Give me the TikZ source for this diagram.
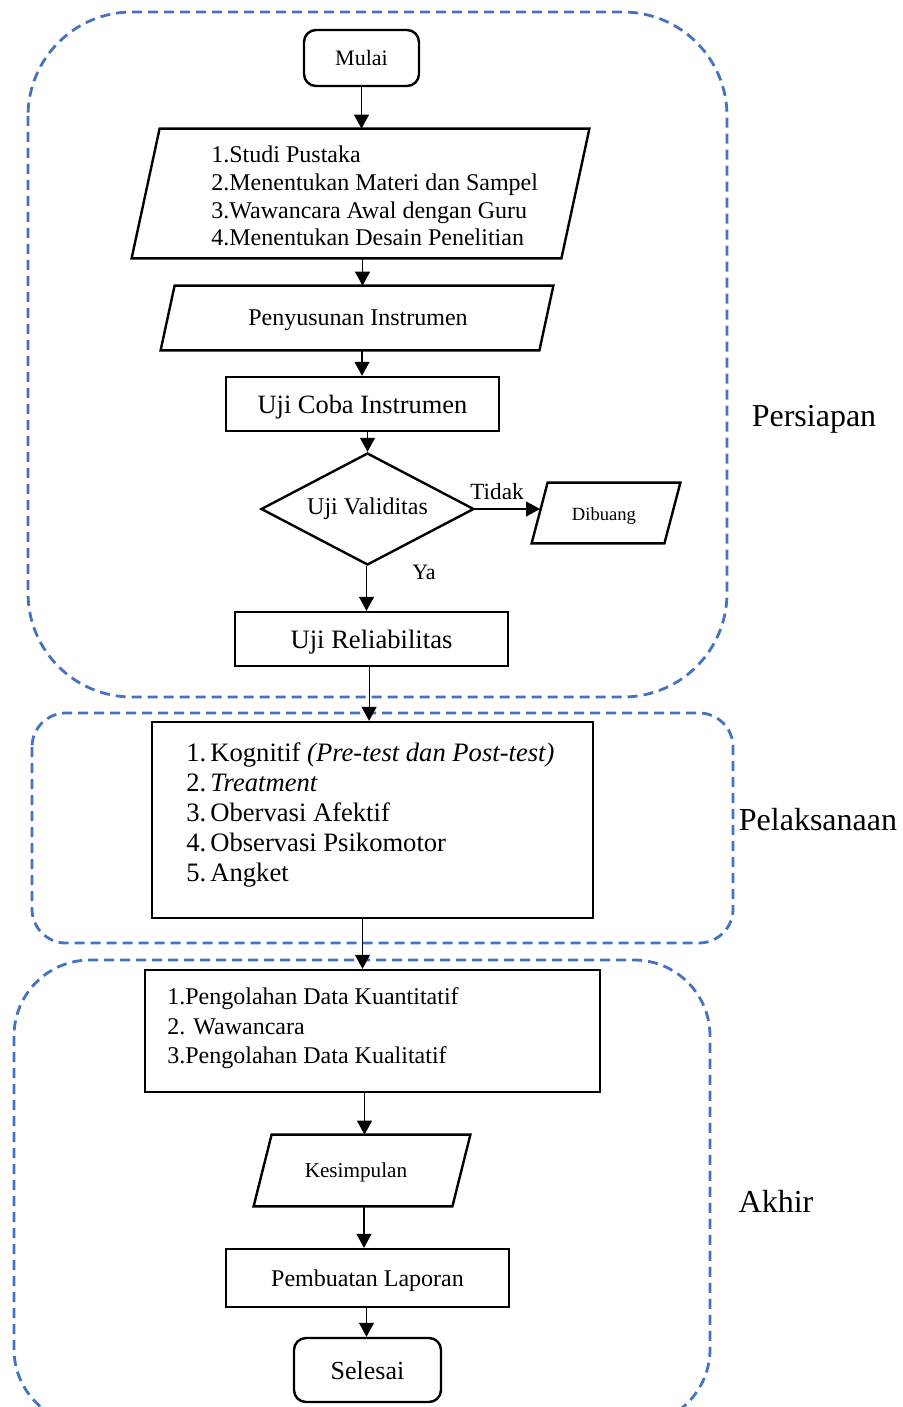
\documentclass[tikz,border=0pt]{standalone}
\usepackage{fontspec}
\setmainfont{Liberation Serif}
\usetikzlibrary{arrows.meta,shapes.geometric,calc}
\definecolor{regblue}{HTML}{4472C4}
\newcommand\fs[2]{\fontsize{#1}{#2}\selectfont}
\newcommand\paraframe[2]{\draw[boxline] (#1.south west) -- ([xshift=#2]#1.north west) -- (#1.north east) -- ([xshift=-#2]#1.south east) -- cycle;}
\newcommand\num[1]{\makebox[12pt][l]{#1}}
\begin{document}
\begin{tikzpicture}[x=0.5pt,y=-0.5pt,
  boxline/.style={line width=1.2pt,black},
  region/.style={draw=regblue,line width=1.4pt,dash pattern=on 5pt off 3pt},
  procbox/.style={draw,line width=1.2pt,inner sep=0pt,text depth=0pt},
  termbox/.style={draw,line width=1.2pt,rounded corners=6pt,inner sep=0pt,text depth=0pt},
  paranode/.style={inner sep=0pt},
  txt/.style={inner sep=0pt},
  arr/.style={line width=0.6pt,-{Triangle[length=7pt,width=7.5pt]}},
  reglabel/.style={inner sep=0pt,font=\fs{16pt}{19pt}}]
\clip (0,0) rectangle (902,1407);
\fill[white] (0,0) rectangle (902,1407);
% regions
\draw[region,rounded corners=52pt] (28,12) rectangle (727,697);
\draw[region,rounded corners=17pt] (32,713) rectangle (733,943);
\draw[region,rounded corners=38pt] (14,960) rectangle (710,1425);
\node[reglabel] (lpers) at (814,419) {Persiapan};
\node[reglabel] (lpel) at (818,820) {Pelaksanaan};
\node[reglabel] (lakh) at (776,1201) {Akhir};
% nodes
\node[termbox,minimum width=57.5pt,minimum height=28pt,font=\fs{11pt}{13pt}] (start) at (361.5,58) {Mulai};
\node[paranode,minimum width=228.5pt,minimum height=64.5pt] (p1) at (360.5,193.5) {};
\paraframe{p1}{14pt}
\node[txt,anchor=west,align=left,font=\fs{12pt}{13.85pt}] (p1t) at (211,196) {1.Studi Pustaka\\2.Menentukan Materi dan Sampel\\3.Wawancara Awal dengan Guru\\4.Menentukan Desain Penelitian};
\node[paranode,minimum width=196pt,minimum height=32pt] (p2) at (357,318) {};
\paraframe{p2}{7pt}
\node[txt,font=\fs{12pt}{14pt},text depth=0pt] (p2t) at (358,318) {Penyusunan Instrumen};
\node[procbox,minimum width=136.5pt,minimum height=27pt,font=\fs{13.2pt}{15pt}] (coba) at (362.5,404) {Uji Coba Instrumen};
\node[draw,line width=1.2pt,diamond,aspect=1.9,inner sep=0pt,minimum width=106.5pt,minimum height=56pt,font=\fs{12pt}{14pt}] (val) at (367.5,509) {\raisebox{2pt}{Uji Validitas}};
\node[paranode,minimum width=74pt,minimum height=30pt] (dib) at (606,513) {};
\paraframe{dib}{8pt}
\node[txt,font=\fs{9.3pt}{11pt},text depth=0pt] (dibt) at (604,514) {Dibuang};
\coordinate (dibL) at (540,509);
\node[txt,font=\fs{11.6pt}{14pt}] (tidak) at (497,492) {Tidak};
\node[txt,font=\fs{11pt}{13pt}] (ya) at (424,572) {Ya};
\node[procbox,minimum width=136.5pt,minimum height=27pt,font=\fs{13.3pt}{15pt}] (rel) at (371.5,639) {Uji Reliabilitas};
\node[procbox,minimum width=220.5pt,minimum height=98pt] (pel) at (372.5,820) {};
\node[txt,anchor=west,align=left,font=\fs{13.3pt}{15pt}] (pelt) at (186,815) {\num{1.}Kognitif \textit{(Pre-test dan Post-test)}\\\num{2.}\textit{Treatment}\\\num{3.}Obervasi Afektif\\\num{4.}Observasi Psikomotor\\\num{5.}Angket};
\node[procbox,minimum width=227.5pt,minimum height=61pt] (akh) at (372.5,1031) {};
\node[txt,anchor=west,align=left,font=\fs{12pt}{14.75pt}] (akht) at (167,1028.5) {1.Pengolahan Data Kuantitatif\\2. Wawancara\\3.Pengolahan Data Kualitatif};
\node[paranode,minimum width=108pt,minimum height=35.5pt] (kes) at (362,1170.5) {};
\paraframe{kes}{9pt}
\node[txt,font=\fs{10.6pt}{12pt},text depth=0pt] (kest) at (356,1170) {Kesimpulan};
\node[procbox,minimum width=141.5pt,minimum height=29pt,font=\fs{12pt}{14pt}] (lap) at (367.5,1278) {Pembuatan Laporan};
\node[termbox,minimum width=73.5pt,minimum height=32pt,font=\fs{13pt}{15pt}] (sel) at (367.5,1370) {Selesai};
% connectors
\draw[arr] (start.south) -- (start.south |- p1.north);
\draw[arr] ([xshift=1pt]p1.south) -- ([xshift=1pt]p1.south |- p2.north);
\draw[arr] ([xshift=2.5pt]p2.south) -- ([xshift=2.5pt]p2.south |- coba.north);
\draw[arr] ([xshift=2.5pt]coba.south) -- (val.north);
\draw[arr] (val.east) -- (dibL);
\draw[arr] ([xshift=-0.5pt]val.south) -- ([xshift=-0.5pt]val.south |- rel.north);
\draw[arr] ([xshift=-1.2pt]rel.south) -- ([xshift=-1.2pt]rel.south |- pel.north);
\draw[arr] ([xshift=-5pt]pel.south) -- ([xshift=-5pt]pel.south |- akh.north);
\draw[arr] ([xshift=-4pt]akh.south) -- ([xshift=-4pt]akh.south |- kes.north);
\draw[arr] ([xshift=1pt]kes.south) -- ([xshift=1pt]kes.south |- lap.north);
\draw[arr] ([xshift=-0.5pt]lap.south) -- ([xshift=-0.5pt]lap.south |- sel.north);
\end{tikzpicture}
\end{document}
